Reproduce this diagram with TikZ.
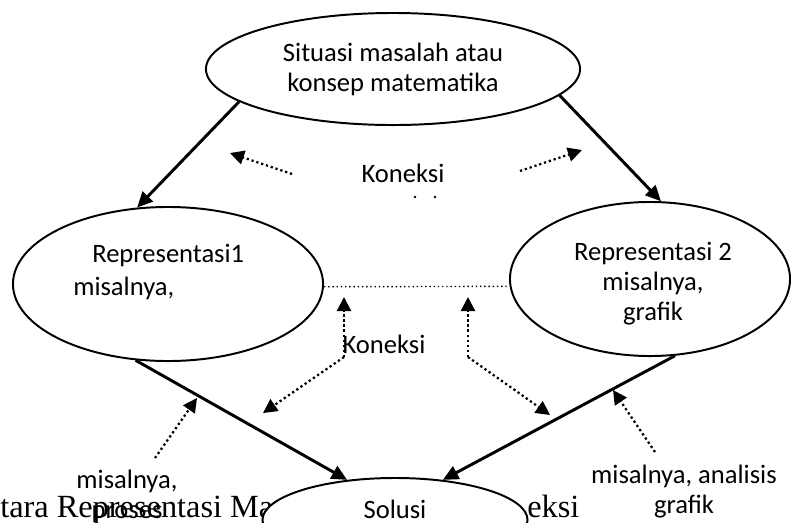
\documentclass[tikz,border=0pt]{standalone}
\usepackage{fontspec}
\setmainfont{Carlito}
\newfontfamily\capfont{Liberation Serif}
\usetikzlibrary{shapes.geometric, arrows.meta}

\begin{document}
\begin{tikzpicture}[
    x=0.025cm, y=-0.025cm,
    font=\fontsize{18.9}{21.3}\selectfont,
    ell/.style={draw, ellipse, line width=1.4pt, fill=white, inner sep=0pt},
    flow/.style={line width=2.1pt, -{Triangle[length=11pt, width=10pt]}},
    link/.style={line width=1.6pt, dash pattern=on 1.6pt off 2pt, -{Triangle[length=10pt, width=10pt]}},
    txt/.style={align=center, inner sep=0pt}
]
    \useasboundingbox (0,0) rectangle (791,522);
    \clip (0,0) rectangle (791,522);

    % Caption line behind the bottom ellipse
    \node[font=\capfont\fontsize{23}{28}\selectfont, anchor=base west, inner sep=0pt] (capl) at (0,517) {tara Representasi Ma};
    \node[font=\capfont\fontsize{23}{28}\selectfont, anchor=base west, inner sep=0pt] (capr) at (527,517) {eksi};

    % Ellipses
    \node[ell, minimum width=9.35cm, minimum height=2.8cm, align=center] (top) at (393,69) {Situasi masalah atau\\konsep matematika};
    \node[ell, minimum width=7.75cm, minimum height=3.85cm] (rep1) at (168,284) {};
    \node[ell, minimum width=7.0cm, minimum height=3.85cm] (rep2) at (650,279) {};
    \node[ell, minimum width=6.625cm, minimum height=2.1cm] (sol) at (395,520) {};

    % Texts
    \node[txt, anchor=west] (r1name) at (92,255) {Representasi1};
    \node[txt, anchor=west] (r1ex) at (73,288) {misalnya,};
    \node[txt] (r2txt) at (653,284) {Representasi 2\\misalnya,\\grafik};
    \node[txt] (soltxt) at (395,509) {Solusi};
    \node[txt] (kontop) at (403,173) {Koneksi};
    \node[txt] (konmid) at (384,344) {Koneksi};
    \node[txt] (ex1) at (127,496) {misalnya,\\proses};
    \node[txt] (ex2) at (684,492) {misalnya, analisis\\grafik};
    \fill (415,197) circle (1pt);
    \fill (435,197) circle (1pt);

    % Main flow
    \draw[flow] (top.192) -- (rep1.112);
    \draw[flow] (top.351) -- (rep2.82);
    \draw[flow] (rep1.247) -- (sol.140);
    \draw[flow] (rep2.288) -- (sol.40);

    % Connections
    \draw[line width=1pt, dash pattern=on 1pt off 2pt] (rep1.-1) -- (rep2.183);

    \coordinate (ul0) at (292,174);
    \coordinate (ul1) at (230,153);
    \coordinate (ur0) at (520,171);
    \coordinate (ur1) at (582,150);
    \coordinate (ml) at (344,357);
    \coordinate (mlup) at (344,297);
    \coordinate (mldn) at (263,413);
    \coordinate (mr) at (468,357);
    \coordinate (mrup) at (468,297);
    \coordinate (mrdn) at (550,415);
    \coordinate (ll0) at (155,458);
    \coordinate (ll1) at (197,398);
    \coordinate (lr0) at (655,452);
    \coordinate (lr1) at (613,390);

    \draw[link] (ul0) -- (ul1);
    \draw[link] (ur0) -- (ur1);
    \draw[link] (ml) -- (mlup);
    \draw[link] (ml) -- (mldn);
    \draw[link] (mr) -- (mrup);
    \draw[link] (mr) -- (mrdn);
    \draw[link] (ll0) -- (ll1);
    \draw[link] (lr0) -- (lr1);
\end{tikzpicture}
\end{document}
